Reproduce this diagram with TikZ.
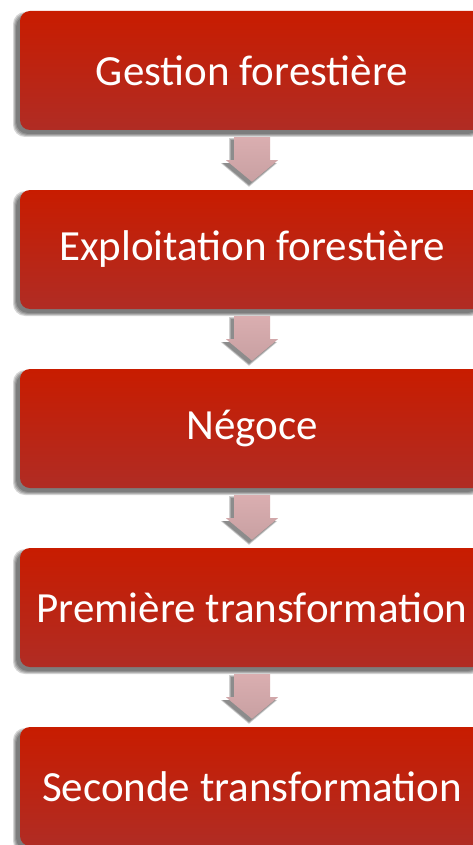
\documentclass[tikz,border=0pt]{standalone}
\usepackage{fontspec}
\setmainfont{Carlito}
\usetikzlibrary{calc}
\definecolor{boxtop}{RGB}{200,28,0}
\definecolor{boxbot}{RGB}{176,44,36}
\definecolor{arrtop}{RGB}{218,174,176}
\definecolor{arrbot}{RGB}{200,160,162}
\tikzset{
  stagebox/.style={minimum width=464pt, minimum height=119pt, rounded corners=10pt,
    top color=boxtop, bottom color=boxbot, draw=none, text=white, inner sep=0pt,
    font=\fontsize{43}{50}\selectfont},
  shadowlayer/.style={fill=black, fill opacity=0.16, draw=none, rounded corners=12pt},
  blockarrow/.style={top color=arrtop, bottom color=arrbot, draw=none},
  arrshadow/.style={fill=black, fill opacity=0.18, draw=none}
}
\begin{document}
\begin{tikzpicture}[x=1pt,y=-1pt]
\useasboundingbox[fill=white] (0,0) rectangle (472,845);
\foreach \t/\nm/\txt in {11/a/Gestion forestière,190/b/Exploitation forestière,369/c/Négoce,548/d/Première transformation,727/e/Seconde transformation}{
  \foreach \g in {0,1,2,3}{
    \fill[shadowlayer] (20-4-\g,\t+4-\g) rectangle (484-4+\g,\t+119+4+\g);
  }
  \node[stagebox] (\nm) at (252,\t+59.5) {\txt};
}
\foreach \p/\q in {a/b,b/c,c/d,d/e}{
  \foreach \g in {0,1,2}{
    \fill[arrshadow] ($(\p.south)+(-18-\g-3,7-\g+3)$) -- ($(\p.south)+(18+\g-3,7-\g+3)$) -- ($(\p.south)+(18+\g-3,30+3)$) -- ($(\p.south)+(26+\g-3,30+3)$) -- ($(\q.north)+(0-3,-8+\g+3)$) -- ($(\p.south)+(-26-\g-3,30+3)$) -- ($(\p.south)+(-18-\g-3,30+3)$) -- cycle;
  }
  \shade[blockarrow] ($(\p.south)+(-18,7)$) -- ($(\p.south)+(18,7)$) -- ($(\p.south)+(18,30)$) -- ($(\p.south)+(26,30)$) -- ($(\q.north)+(0,-8)$) -- ($(\p.south)+(-26,30)$) -- ($(\p.south)+(-18,30)$) -- cycle;
}
\end{tikzpicture}
\end{document}
